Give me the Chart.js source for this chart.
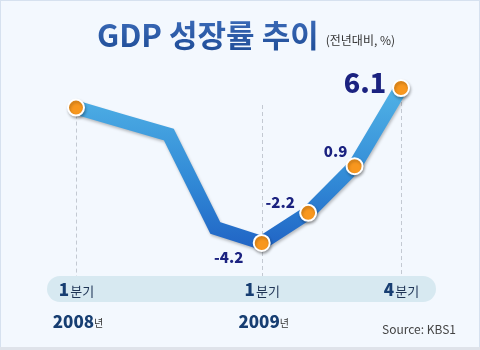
<!DOCTYPE html>
<html>
<head>
<meta charset="utf-8">
<script src="https://cdn.jsdelivr.net/npm/chart.js@4"></script>
<style>
  html, body { margin: 0; padding: 0; background: #fff; }
  canvas { display: block; }
</style>
</head>
<body>
<canvas id="gdp" width="480" height="350"></canvas>
<script>
const quarters = ['2008 1분기', '2008 2분기', '2008 3분기', '2008 4분기', '2009 1분기', '2009 2분기', '2009 3분기', '2009 4분기'];
const growth = [4.8, 3.9, 3.0, -3.2, -4.2, -2.2, 0.9, 6.1];
const labelled = [0, 0, 0, 0, 1, 1, 1, 1];      // value shown next to marker
const marked = [1, 0, 0, 0, 1, 1, 1, 1];        // orange marker drawn
const tickNums = ['1', '', '', '', '1', '', '', '4'];
const tickYears = ['2008', '', '', '', '2009', '', '', ''];

const FONT = '"Noto Sans CJK KR", "Noto Sans", sans-serif';
const NAVY = '#1b2280';

// label offsets next to the points (px)
const labelOffset = { 4: [-33, 14, 15], 5: [-28, -11, 15], 6: [-19, -15, 15], 7: [-36, -5, 27] };

const decor = {
    id: 'decor',
    beforeDraw(chart) {
        const ctx = chart.ctx;
        ctx.save();
        ctx.fillStyle = '#f3f8fe';
        ctx.fillRect(0, 0, 480, 350);
        ctx.strokeStyle = '#d6e1ef';
        ctx.lineWidth = 1;
        ctx.strokeRect(0.5, 0.5, 479, 348);
        ctx.fillStyle = '#dfe3ea';
        ctx.fillRect(0, 347, 480, 3);

        // title
        ctx.textBaseline = 'alphabetic';
        const g = ctx.createLinearGradient(0, 22, 0, 48);
        g.addColorStop(0, '#3867b4');
        g.addColorStop(1, '#22509b');
        ctx.fillStyle = g;
        ctx.font = 'bold 31px ' + FONT;
        ctx.textAlign = 'left';
        ctx.fillText('GDP 성장률 추이', 97, 47);
        const tw = ctx.measureText('GDP 성장률 추이').width;
        ctx.fillStyle = '#333';
        ctx.font = '12px ' + FONT;
        ctx.fillText('(전년대비, %)', 97 + tw + 7, 45);

        // dashed guides
        const x = chart.scales.x;
        ctx.strokeStyle = '#c3c9d2';
        ctx.setLineDash([4, 3]);
        quarters.forEach((q, i) => {
            if (!tickNums[i]) return;
            const px = Math.round(x.getPixelForValue(i)) + 0.5;
            ctx.beginPath();
            ctx.moveTo(px, i === 4 ? 105 : chart.scales.y.getPixelForValue(growth[i]));
            ctx.lineTo(px, 276);
            ctx.stroke();
        });
        ctx.setLineDash([]);

        // band
        ctx.fillStyle = '#d7e9f1';
        ctx.beginPath();
        ctx.roundRect(47, 276, 389, 26, 13);
        ctx.fill();

        quarters.forEach((q, i) => {
            if (!tickNums[i]) return;
            const px = x.getPixelForValue(i);
            ctx.font = '900 17px ' + FONT;
            const w1 = ctx.measureText(tickNums[i]).width;
            ctx.font = '13px ' + FONT;
            const w2 = ctx.measureText('분기').width;
            let sx = px - (w1 + w2) / 2;
            ctx.fillStyle = '#173e72';
            ctx.font = '900 17px ' + FONT;
            ctx.fillText(tickNums[i], sx, 296);
            ctx.fillStyle = '#1f3556';
            ctx.font = '13px ' + FONT;
            ctx.fillText('분기', sx + w1 + 1, 296);

            if (tickYears[i]) {
                ctx.font = '900 17px ' + FONT;
                const y1 = ctx.measureText(tickYears[i]).width;
                ctx.font = '10px ' + FONT;
                const y2 = ctx.measureText('년').width;
                sx = px + 2 - (y1 + y2) / 2;
                ctx.fillStyle = '#173e72';
                ctx.font = '900 17px ' + FONT;
                ctx.fillText(tickYears[i], sx, 328);
                ctx.fillStyle = '#333';
                ctx.font = '10px ' + FONT;
                ctx.fillText('년', sx + y1, 327);
            }
        });

        ctx.fillStyle = '#444';
        ctx.font = '12px ' + FONT;
        ctx.textAlign = 'right';
        ctx.fillText('Source: KBS1', 456, 334);
        ctx.restore();
    },
    beforeDatasetsDraw(chart) {
        const ctx = chart.ctx;
        ctx.save();
        ctx.shadowColor = 'rgba(0,0,0,0.25)';
        ctx.shadowBlur = 3;
        ctx.shadowOffsetX = 1;
        ctx.shadowOffsetY = 2;
    },
    afterDatasetsDraw(chart) {
        chart.ctx.restore();
        const ctx = chart.ctx;
        const meta = chart.getDatasetMeta(0);
        ctx.save();
        ctx.fillStyle = NAVY;
        ctx.textAlign = 'center';
        ctx.textBaseline = 'middle';
        growth.forEach((v, i) => {
            if (!labelled[i]) return;
            const p = meta.data[i];
            const o = labelOffset[i];
            ctx.font = '900 ' + o[2] + 'px ' + FONT;
            ctx.fillText(v.toFixed(1), p.x + o[0], p.y + o[1]);
        });
        ctx.restore();
    }
};

const canvas = document.getElementById('gdp');
new Chart(canvas, {
    type: 'line',
    data: {
        labels: quarters,
        datasets: [{
            data: growth,
            borderWidth: 14,
            borderJoinStyle: 'miter',
            borderCapStyle: 'butt',
            borderColor: (c) => {
                const a = c.chart.chartArea;
                if (!a) return '#2f80d0';
                const g = c.chart.ctx.createLinearGradient(0, a.top, 0, a.bottom);
                g.addColorStop(0, '#55b8e8');
                g.addColorStop(0.55, '#3189d6');
                g.addColorStop(1, '#1b58bf');
                return g;
            },
            tension: 0,
            pointRadius: marked.map(m => m ? 8 : 0),
            pointHoverRadius: marked.map(m => m ? 8 : 0),
            pointBackgroundColor: '#f8971e',
            pointBorderColor: '#ffffff',
            pointBorderWidth: 2,
            clip: false
        }]
    },
    options: {
        responsive: false,
        animation: false,
        devicePixelRatio: 1,
        layout: { padding: { left: 76, right: 79, top: 74.5, bottom: 80 } },
        plugins: { legend: { display: false }, tooltip: { enabled: false } },
        scales: {
            x: { display: false },
            y: { display: false, min: -6, max: 7 }
        }
    },
    plugins: [decor]
});
</script>
</body>
</html>
